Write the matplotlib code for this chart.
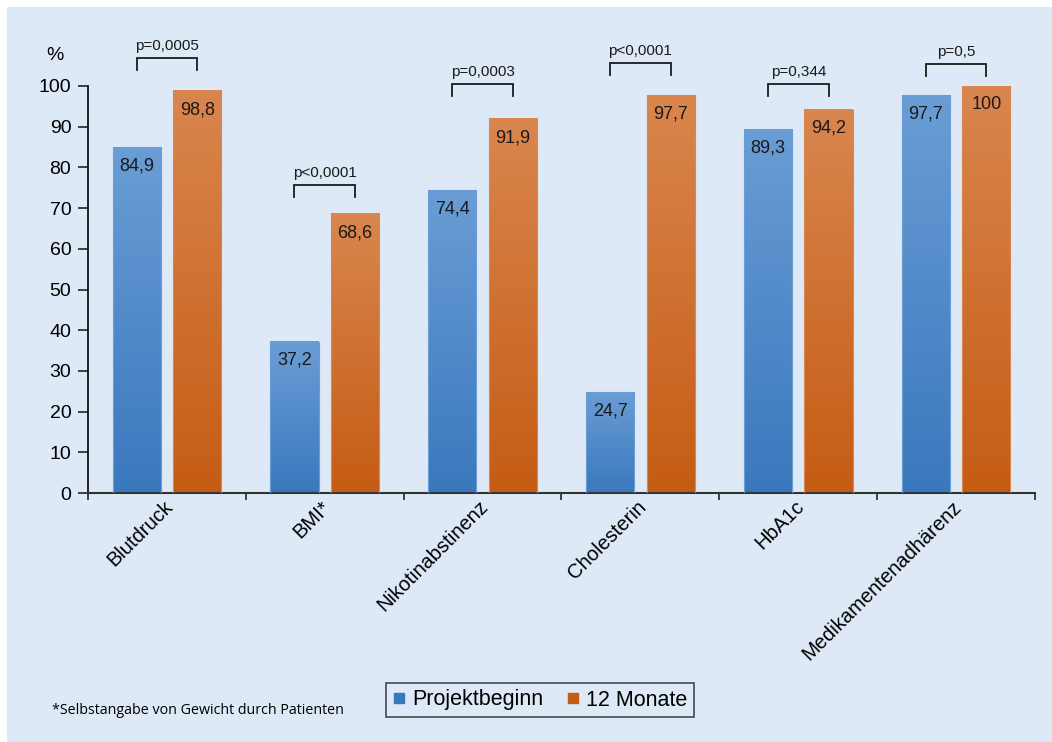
import matplotlib
matplotlib.use("Agg")
import matplotlib.pyplot as plt
import numpy as np
from matplotlib.colors import LinearSegmentedColormap
from matplotlib.lines import Line2D
from matplotlib.patches import Rectangle
from matplotlib.transforms import ScaledTranslation

categories = ["Blutdruck", "BMI*", "Nikotinabstinenz", "Cholesterin", "HbA1c", "Medikamentenadhärenz"]
projektbeginn = [84.9, 37.2, 74.4, 24.7, 89.3, 97.7]
monate12 = [98.8, 68.6, 91.9, 97.7, 94.2, 100]
p_values = ["p=0,0005", "p<0,0001", "p=0,0003", "p<0,0001", "p=0,344", "p=0,5"]
bracket_levels = [106.9, 75.7, 100.5, 105.6, 100.5, 105.4]
yticks = [0, 10, 20, 30, 40, 50, 60, 70, 80, 90, 100]
series_names = ["Projektbeginn", "12 Monate"]

BG = "#dde9f6"
blue_top, blue_bot = "#6a9dd5", "#3a78bd"
orange_top, orange_bot = "#d9864f", "#c55c14"

plt.rcParams['font.family'] = ['Liberation Sans', 'DejaVu Sans']

fig = plt.figure(figsize=(10.52, 7.42), dpi=100)
fig.patch.set_facecolor("white")
fig.patches.append(Rectangle((7/1052, 0), 1, 1 - 7/742, transform=fig.transFigure,
                             facecolor=BG, edgecolor="none", zorder=-10))

ax = fig.add_axes([88/1052, 249/742, 947/1052, 407/742])
ax.set_facecolor("none")
ax.set_xlim(-0.5, 5.5)
ax.set_ylim(0, 100)

width = 0.305
off = 0.192
x = np.arange(len(categories))

def grad_bar(xc, h, ctop, cbot):
    cmap = LinearSegmentedColormap.from_list("g", [cbot, ctop])
    grad = np.linspace(0, 1, 256).reshape(-1, 1)
    ax.imshow(grad, cmap=cmap, origin="lower", aspect="auto",
              extent=[xc - width/2, xc + width/2, 0, h], zorder=2, interpolation="bilinear")
    ax.add_patch(Rectangle((xc - width/2, 0), width, h, facecolor="none",
                           edgecolor=ctop, linewidth=0.8, zorder=3))

for i in range(len(categories)):
    grad_bar(x[i] - off, projektbeginn[i], blue_top, blue_bot)
    grad_bar(x[i] + off, monate12[i], orange_top, orange_bot)
    for xc, v in [(x[i] - off, projektbeginn[i]), (x[i] + off, monate12[i])]:
        ax.annotate(f"{v:g}".replace(".", ","), (xc, v), xytext=(0, -13.5),
                    textcoords="offset points", ha="center", va="center",
                    fontsize=13, color="#1a1a1a", zorder=4)
    yb = bracket_levels[i]
    leg = 2.9
    ax.plot([x[i] - off, x[i] - off, x[i] + off, x[i] + off],
            [yb - leg, yb, yb, yb - leg], color="#1a1a1a", lw=1.3,
            clip_on=False, zorder=4, solid_joinstyle="miter")
    ax.text(x[i], yb + 1.3, p_values[i], ha="center", va="bottom",
            fontsize=11, color="#1a1a1a", clip_on=False)

ax.set_yticks(yticks)
ax.set_yticklabels([str(t) for t in yticks], fontsize=14)
ax.tick_params(axis="y", direction="out", length=7, width=1.2, color="#222222", pad=5)
ax.set_xticks(np.arange(-0.5, 5.6, 1.0))
ax.set_xticklabels([])
ax.tick_params(axis="x", direction="out", length=5, width=1.2, color="#222222")
ax.xaxis.set_ticks_position("bottom")
ax.set_xticks(x, minor=True)
ax.set_xticklabels(categories, minor=True, rotation=45, ha="right",
                   rotation_mode="anchor", fontsize=14.5)
ax.tick_params(axis="x", which="minor", length=0, pad=3)
for lbl in ax.get_xticklabels(minor=True):
    lbl.set_transform(lbl.get_transform() + ScaledTranslation(-4/100, 0, fig.dpi_scale_trans))

for s in ["top", "right"]:
    ax.spines[s].set_visible(False)
ax.spines["left"].set_color("#111111")
ax.spines["left"].set_linewidth(1.3)
ax.spines["bottom"].set_color("#333333")
ax.spines["bottom"].set_linewidth(1.5)

fig.text(55/1052, 1 - 55/742, "%", fontsize=14, ha="center", va="center")

handles = [Line2D([], [], marker="s", linestyle="none", markersize=6.5,
                  markerfacecolor=c, markeredgecolor=c) for c in [blue_bot, orange_bot]]
leg = fig.legend(handles, series_names, loc="center", bbox_to_anchor=(540/1052, 1 - 700/742),
                 ncol=2, fontsize=15.5, frameon=True, fancybox=False, edgecolor="#222222",
                 handlelength=0.6, handletextpad=0.3, columnspacing=1.1,
                 borderpad=0.3)
leg.get_frame().set_facecolor(BG)
leg.get_frame().set_linewidth(1.2)

fig.text(52/1052, 1 - 711/742, "*Selbstangabe von Gewicht durch Patienten",
         fontsize=10.3, ha="left", va="center", family=["Open Sans", "DejaVu Sans"])

fig.savefig("out.png", dpi=100, facecolor=fig.get_facecolor())
